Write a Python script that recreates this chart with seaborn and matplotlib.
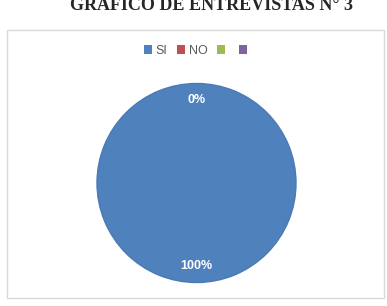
import matplotlib
matplotlib.use("Agg")
import matplotlib.pyplot as plt
import seaborn as sns
from matplotlib.patches import Rectangle, Patch

sns.set_theme(style="white")
plt.rcParams['font.family'] = ['Liberation Sans', 'DejaVu Sans']

title = "GRÁFICO DE ENTREVISTAS N° 3"
categories = ["SI", "NO", "", ""]
values = [100, 0, 0, 0]
colors = ["#4F81BD", "#C0504D", "#9BBB59", "#8064A2"]

total = sum(values)
pct_labels = [f"{v / total * 100:.0f}%" if c else "" for c, v in zip(categories, values)]

fig = plt.figure(figsize=(3.87, 3.06), dpi=100)
fig.patch.set_facecolor("white")

# chart area frame
fig.patches.append(Rectangle((7 / 387, 1 - 298 / 306), 377 / 387, 268 / 306,
                             transform=fig.transFigure, fill=False,
                             edgecolor="#D9D9D9", linewidth=1.0))

ax = fig.add_axes([96 / 387, 1 - 284 / 306, 201 / 387, 202 / 306])
wedges, texts = ax.pie(values, colors=colors, startangle=90, counterclock=False,
                       labels=pct_labels, labeldistance=0.83,
                       wedgeprops=dict(linewidth=0))
for w, v in zip(wedges, values):
    if v > 0:
        w.set_edgecolor("#4A7AB5")
        w.set_linewidth(1.0)
for t in texts:
    t.set_ha("center")
    t.set_va("center")
    t.set_color("white")
    t.set_fontweight("bold")
    t.set_fontsize(9)
ax.set_xlim(-1.01, 1.01)
ax.set_ylim(-1.01, 1.01)
ax.set_aspect("equal")
ax.axis("off")

handles = [Patch(facecolor=c, edgecolor="none") for c in colors]
leg = fig.legend(handles, categories, loc="center", bbox_to_anchor=(197 / 387, 1 - 51 / 306),
                 ncol=4, frameon=False, fontsize=9, handlelength=0.65, handleheight=0.65,
                 handletextpad=0.25, columnspacing=0.8, borderaxespad=0)
for t in leg.get_texts():
    t.set_color("#595959")

fig.text(211 / 387, 1 - 10 / 306, title, ha="center", va="baseline",
         fontsize=13, fontweight="bold", family=["Liberation Serif", "DejaVu Serif"])

fig.savefig("out.png", dpi=100)
